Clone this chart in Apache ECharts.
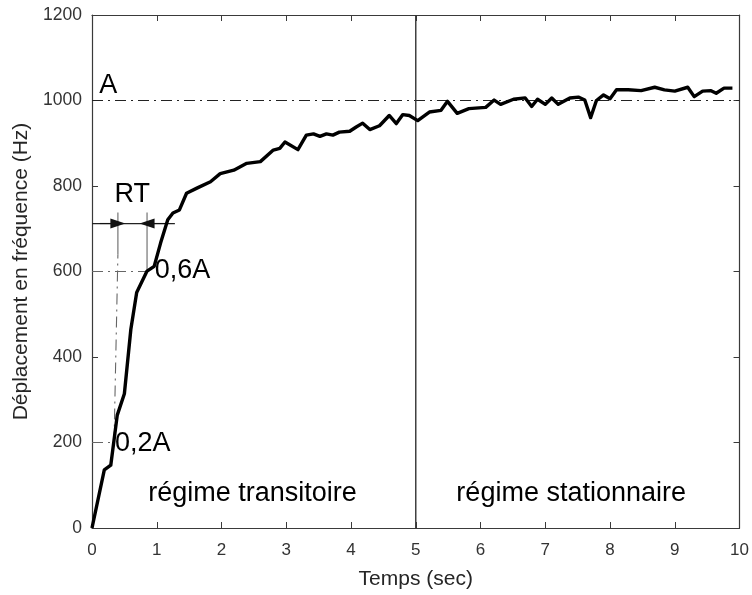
<!DOCTYPE html>
<html>
<head>
<meta charset="utf-8">
<script src="https://cdn.jsdelivr.net/npm/echarts@6/dist/echarts.min.js"></script>
<style>html,body{margin:0;padding:0;background:#fff}#c{width:752px;height:595px}</style>
</head>
<body>
<div id="c"></div>
<script>
// ---- data ----
const timeData = [0,0.19,0.29,0.39,0.50,0.60,0.69,0.85,0.96,1.06,1.17,1.25,1.35,1.46,1.62,1.83,1.98,2.19,2.39,2.60,2.80,2.90,2.98,3.18,3.31,3.42,3.52,3.62,3.72,3.82,3.98,4.08,4.18,4.29,4.44,4.59,4.70,4.80,4.90,5.03,5.21,5.39,5.49,5.64,5.82,6.08,6.21,6.31,6.51,6.69,6.79,6.88,7.00,7.10,7.20,7.38,7.51,7.61,7.70,7.79,7.90,8.00,8.10,8.28,8.48,8.69,8.84,9.00,9.20,9.30,9.43,9.56,9.64,9.76,9.89];
const freqData = [0,136,147,264,314,465,551,601,612,667,721,737,744,783,795,810,829,837,853,857,884,888,903,885,919,922,916,922,919,926,928,938,947,932,941,965,946,967,965,953,973,977,998,970,981,984,1001,991,1003,1006,986,1003,991,1006,991,1006,1008,1001,960,1000,1013,1004,1025,1025,1023,1031,1025,1022,1031,1009,1022,1023,1017,1029,1029];
const xTicks = [0,1,2,3,4,5,6,7,8,9,10];
const yTicks = [0,200,400,600,800,1000,1200];
const levelA = 1000;
const level06 = 600;
const level02 = 200;
const rtLevel = 712;
const rtStart = 0.40;
const rtEnd = 0.85;
const rtTop = 738;
const arrowRightFrom = 1.28;
const boundaryX = 5;
const tangentX = [0.34, 0.40];
const tangentY = [200, 640];
const annotText = ['A', 'RT', '0,6A', '0,2A', 'régime transitoire', 'régime stationnaire'];
const annotX = [0.25, 0.62, 0.97, 0.355, 2.48, 7.4];
const annotY = [1035, 779, 602, 198, 81, 81];
const annotAlign = ['center', 'center', 'left', 'left', 'center', 'center'];

// ---- chart ----
const chart = echarts.init(document.getElementById('c'), null, {renderer: 'canvas'});
const axisCol = '#3a3a3a';
const font = 'Liberation Sans, Arial, sans-serif';
const dashDot = [11, 5, 2, 5];

const annotData = annotText.map((t, i) => ({
  value: [annotX[i], annotY[i]],
  label: {formatter: t, align: annotAlign[i]}
}));

const option = {
  animation: false,
  backgroundColor: '#fff',
  grid: {left: 92, right: 10, top: 15, bottom: 65, show: false},
  xAxis: [{
    type: 'value', min: 0, max: 10, interval: 1, position: 'bottom',
    name: 'Temps (sec)', nameLocation: 'middle', nameGap: 41,
    nameTextStyle: {fontFamily: font, fontSize: 21, color: '#262626'},
    axisLine: {show: true, onZero: false, lineStyle: {color: axisCol, width: 1.2}},
    axisTick: {show: true, inside: true, length: 6, lineStyle: {color: axisCol}},
    axisLabel: {fontFamily: font, fontSize: 17, color: '#333', margin: 14,
      formatter: v => xTicks.includes(v) ? String(v) : ''},
    splitLine: {show: false}
  }, {
    type: 'value', min: 0, max: 10, interval: 1, position: 'top',
    axisLine: {show: true, onZero: false, lineStyle: {color: axisCol, width: 1.2}},
    axisTick: {show: true, inside: true, length: 6, lineStyle: {color: axisCol}},
    axisLabel: {show: false}, splitLine: {show: false}
  }],
  yAxis: [{
    type: 'value', min: 0, max: 1200, interval: 200, position: 'left',
    name: 'Déplacement en fréquence (Hz)', nameLocation: 'middle', nameGap: 58, nameRotate: 90,
    nameTextStyle: {fontFamily: font, fontSize: 21, color: '#262626'},
    axisLine: {show: true, onZero: false, lineStyle: {color: axisCol, width: 1.2}},
    axisTick: {show: true, inside: true, length: 6, lineStyle: {color: axisCol}},
    axisLabel: {fontFamily: font, fontSize: 17.5, color: '#333', margin: 10,
      formatter: v => yTicks.includes(v) ? String(v) : ''},
    splitLine: {show: false}
  }, {
    type: 'value', min: 0, max: 1200, interval: 200, position: 'right',
    axisLine: {show: true, onZero: false, lineStyle: {color: axisCol, width: 1.2}},
    axisTick: {show: true, inside: true, length: 6, lineStyle: {color: axisCol}},
    axisLabel: {show: false}, splitLine: {show: false}
  }],
  series: [
    {
      type: 'line', name: 'A line', silent: true, symbol: 'none',
      data: [[0, levelA], [10, levelA]],
      lineStyle: {color: '#222', width: 1.1, type: dashDot}, z: 2
    },
    {
      type: 'line', name: 'boundary', silent: true, symbol: 'none',
      data: [[boundaryX, 0], [boundaryX, 1200]],
      lineStyle: {color: '#333', width: 1.4}, z: 2
    },
    {
      type: 'line', name: '0.6A', silent: true, symbol: 'none',
      data: [[0, level06], [rtEnd, level06]],
      lineStyle: {color: '#666', width: 1.1, type: dashDot}, z: 2
    },
    {
      type: 'line', name: '0.2A', silent: true, symbol: 'none',
      data: [[0, level02], [tangentX[0], level02]],
      lineStyle: {color: '#666', width: 1.1, type: dashDot}, z: 2
    },
    {
      type: 'line', name: 'tangent', silent: true, symbol: 'none',
      data: [[tangentX[0], tangentY[0]], [tangentX[1], tangentY[1]]],
      lineStyle: {color: '#666', width: 1.1, type: dashDot}, z: 2
    },
    {
      type: 'line', name: 'rt left', silent: true, symbol: 'none',
      data: [[rtStart, tangentY[1]], [rtStart, rtTop]],
      lineStyle: {color: '#666', width: 1.1}, z: 2
    },
    {
      type: 'line', name: 'rt right', silent: true, symbol: 'none',
      data: [[rtEnd, level06], [rtEnd, rtTop]],
      lineStyle: {color: '#666', width: 1.1}, z: 2
    },
    {
      type: 'line', name: 'rt bar', silent: true, symbol: 'none',
      data: [[0, rtLevel], [arrowRightFrom, rtLevel]],
      lineStyle: {color: '#222', width: 1.1}, z: 2,
      markLine: {
        silent: true, symbol: ['none', 'triangle'], symbolSize: [10, 15],
        lineStyle: {color: '#111', width: 1.1, type: 'solid'},
        itemStyle: {color: '#111'},
        label: {show: false},
        data: [
          [{coord: [0.12, rtLevel]}, {coord: [rtStart, rtLevel]}],
          [{coord: [arrowRightFrom - 0.12, rtLevel]}, {coord: [rtEnd, rtLevel]}]
        ]
      }
    },
    {
      type: 'line', name: 'signal', silent: true, symbol: 'none',
      data: timeData.map((t, i) => [t, freqData[i]]),
      lineStyle: {color: '#000', width: 3.4, join: 'round'}, z: 5
    },
    {
      type: 'scatter', name: 'annot', silent: true, symbolSize: 0,
      itemStyle: {opacity: 1},
      data: annotData,
      label: {show: true, position: 'inside', fontFamily: font, fontSize: 27,
        color: '#000', opacity: 1, verticalAlign: 'middle'},
      z: 6
    }
  ]
};
chart.setOption(option);
</script>
</body>
</html>
